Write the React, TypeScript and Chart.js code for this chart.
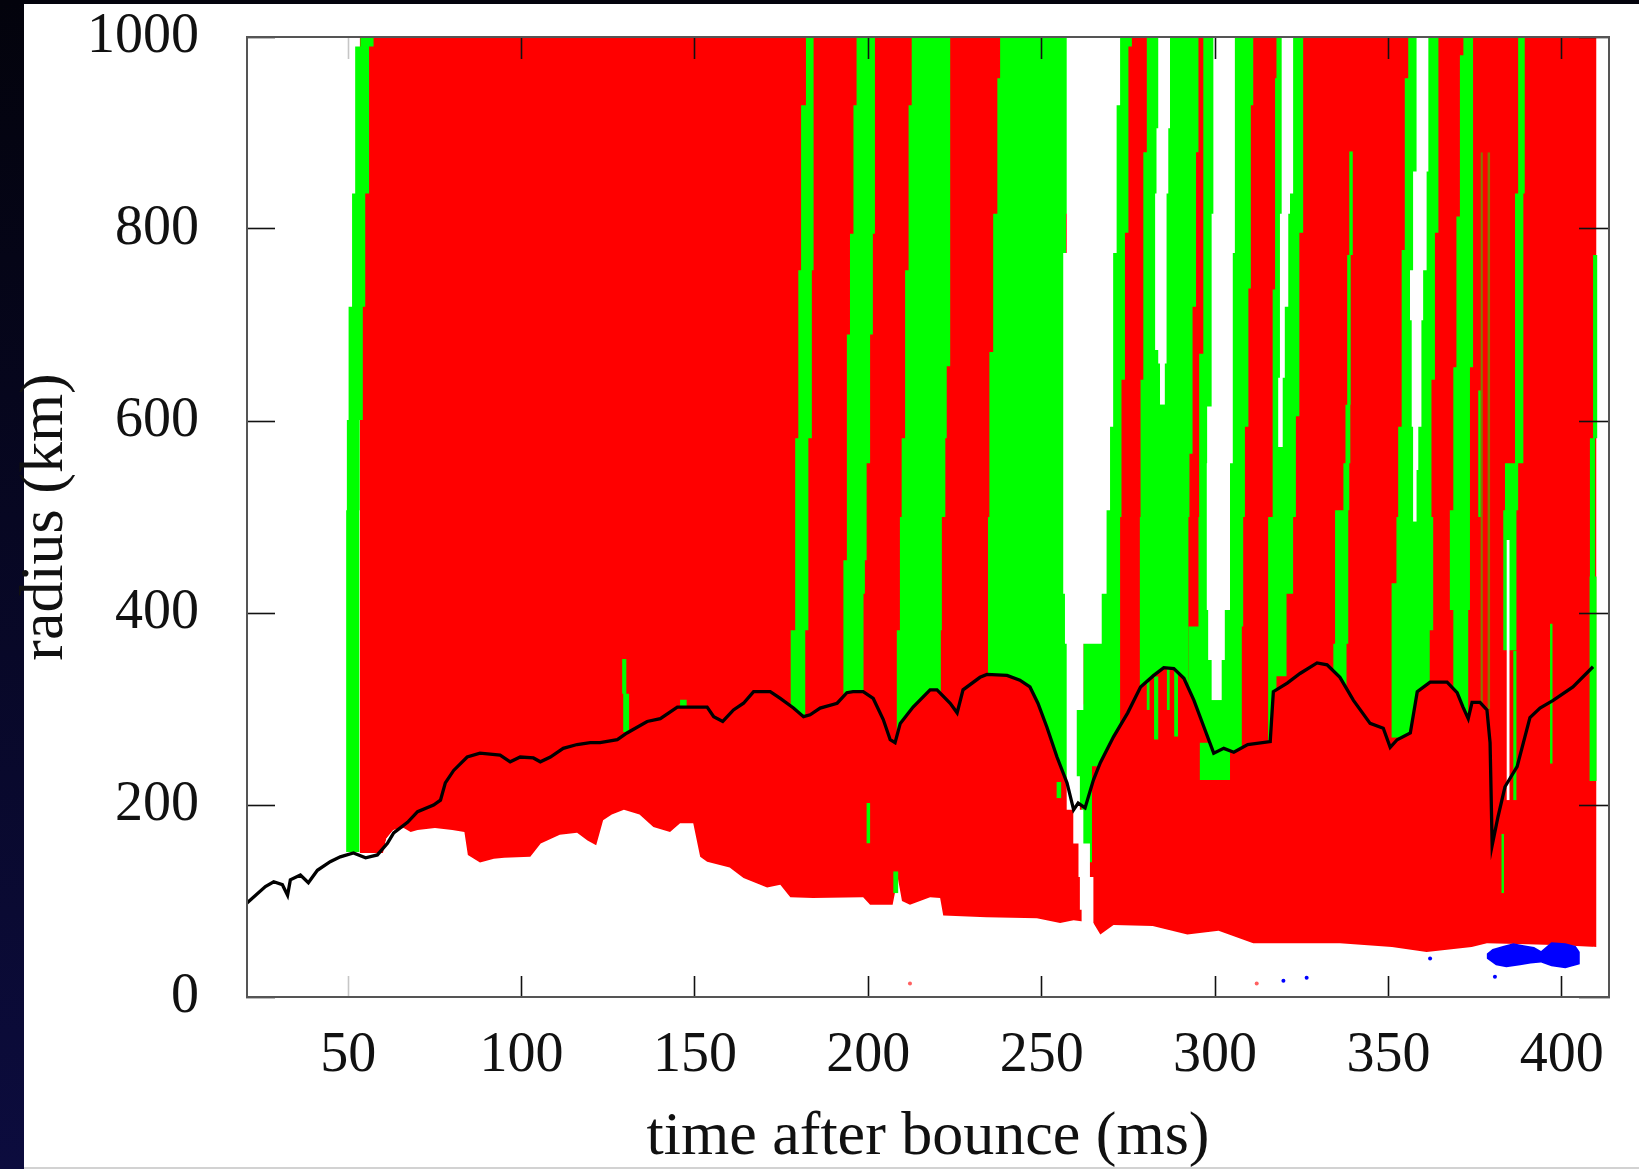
import React, { useEffect, useRef } from 'react';
import { Chart, registerables } from 'chart.js';

Chart.register(...registerables);

const SERIF = "'Liberation Serif', 'Times New Roman', serif";
const RED = '#ff0000';
const GREEN = '#00ff00';
const WHITE = '#ffffff';
const BLUE = '#0000ff';
const OLIVE = '#857a00';

const X_MIN = 20.8;
const X_MAX = 413.6;
const xTicks = [50, 100, 150, 200, 250, 300, 350, 400];
const yTicks = [0, 200, 400, 600, 800, 1000];

// shock radius [time ms, radius km]
const shockRadius = [
  [20.8, 98], [26.1, 115], [28.5, 120], [31, 117], [32.5, 106], [33.3, 122], [36.2, 127], [38.5, 119],
  [41.1, 132], [44.8, 141], [47.7, 146], [51.5, 150], [55, 145], [58.4, 148], [61.3, 160], [63.1, 171],
  [67.1, 182], [70, 193], [74.6, 200], [76.6, 205], [78, 223], [80.4, 236], [84.3, 250], [88, 254],
  [93.8, 252], [96.7, 245], [99.6, 250], [103.4, 249], [105.4, 245], [108.3, 250], [112, 259], [116, 263],
  [119.8, 265], [122.6, 265], [127.6, 268], [130.4, 275], [136.2, 287], [140, 290], [144.9, 302], [153.5, 302],
  [155.4, 292], [158, 287], [161.1, 299], [164, 306], [166.9, 318], [171.7, 318], [174.6, 311], [178.4, 301],
  [181.3, 292], [183.2, 294], [186.1, 301], [191, 306], [193.8, 317], [195.6, 318], [198.5, 318], [201.4, 311],
  [204.3, 289], [206.3, 268], [207.7, 265], [209.2, 285], [212.9, 302], [217.8, 320], [219.8, 320], [223.6, 306],
  [225.6, 296], [227.3, 320], [232.2, 333], [234.2, 336], [240, 335], [243.7, 330], [246.6, 323], [248.9, 306],
  [251.5, 281], [254.4, 250], [257.3, 223], [259.2, 195], [260.5, 202], [262.5, 197], [264.9, 226], [266.9, 244],
  [270.7, 271], [274.8, 296], [278.5, 323], [282.3, 335], [285.2, 343], [288.1, 342], [291, 332], [293.9, 309],
  [296.8, 281], [299.6, 254], [302.5, 259], [305.4, 255], [309.4, 263], [315.9, 266], [316.8, 318], [320.8, 327],
  [324.5, 337], [329.4, 348], [332.3, 346], [336, 333], [339.9, 309], [344.7, 285], [348.5, 280], [350.5, 260],
  [352.5, 268], [356.3, 275], [358.3, 318], [362, 328], [366.9, 328], [369.8, 317], [371.5, 302], [373, 290],
  [374.1, 307], [376.4, 307], [378.4, 299], [379.3, 265], [379.9, 158], [381.6, 188], [383.6, 219], [387.1, 240],
  [390.8, 291], [393.7, 301], [397.5, 309], [403.2, 323], [409, 344],
];

// lower edge of the coloured region [time ms, radius km]
const innerEdge = [
  [53.3, 150], [60, 150], [61, 165], [63, 174], [66, 176], [68, 172], [70, 174], [75, 176], [80, 174],
  [83.5, 172], [84.5, 148], [88, 140], [92, 144], [95, 145], [102.5, 146], [105.5, 160], [111, 169], [116, 171],
  [119, 163], [121.5, 158], [123.5, 184], [126, 190], [129.5, 195], [134, 190], [138, 177], [142.8, 172],
  [145.7, 181], [149.5, 181], [151.5, 146], [153.5, 141], [160, 135], [164, 124], [170.8, 114], [174.6, 117],
  [177.5, 104], [184, 103], [198.5, 104], [200.5, 96], [207, 96], [208.5, 124], [209.7, 100], [212, 96],
  [217.8, 104], [220.7, 103], [221.6, 85], [234, 83], [248.6, 82], [255.3, 77], [259.2, 80], [263, 78],
  [264.9, 77], [266.9, 65], [270.7, 75], [282, 74], [292, 65], [301, 69], [311, 56], [322, 56], [336, 56],
  [351, 52], [361, 47], [374, 52], [378.4, 56], [390, 55], [400, 54], [410, 52],
];

// vertical strips: [radius km (from), left edge ms, right edge ms]
const green50 = [[151, 49.4, 53.2], [507, 49.6, 53.3], [601, 50.1, 54.2], [719, 51.1, 54.9], [837, 52.0, 56.0], [990, 53.5, 57.3], [1000, 53.5, 57.3]];
const greenA = [[285, 177.6, 181.8], [382, 178.9, 182.7], [582, 179.8, 183.7], [757, 180.6, 184.2], [929, 182.0, 184.2], [1000, 182.0, 184.2]];
const greenB = [[300, 192.8, 198.6], [420, 192.8, 199.0], [455, 193.8, 199.5], [556, 193.8, 200.5], [690, 194.7, 201.3], [795, 195.7, 201.9], [929, 196.6, 201.9], [1000, 196.6, 201.9]];
const greenC = [[255, 208.2, 220.9], [382, 209.1, 221.2], [500, 209.6, 222.2], [582, 210.6, 222.6], [657, 210.6, 223.6], [757, 211.6, 223.6], [929, 212.5, 223.6], [1000, 212.5, 223.6]];
const greenD = [[200, 234.5, 264.5], [305, 234.5, 258.0], [500, 234.9, 257.0], [672, 236.0, 257.0], [816, 237.2, 257.5], [957, 238.0, 257.5], [1000, 238.0, 257.5]];
const greenE = [[240, 262.0, 272.6], [500, 262.0, 273.0], [643, 262.0, 274.0], [796, 262.0, 275.0], [990, 262.0, 276.0], [1000, 262.0, 276.0]];
const greenFG = [[300, 278.3, 292.3], [500, 278.5, 292.6], [566, 278.5, 293.5], [643, 279.3, 293.5], [719, 279.3, 294.5], [880, 280.3, 295.2], [1000, 280.3, 295.2]];
const greenHI = [[226, 292.3, 307.7], [386, 295.2, 308.1], [500, 295.4, 308.6], [594, 295.4, 309.6], [670, 296.6, 309.6], [738, 296.6, 310.3], [929, 296.6, 311.0], [1000, 296.6, 311.0]];
const greenJ = [[260, 315.3, 317.7], [334, 315.3, 320.6], [420, 315.3, 322.5], [500, 316.6, 323.3], [605, 316.6, 324.3], [737, 317.3, 324.3], [796, 317.3, 325.4], [957, 317.7, 325.4], [1000, 317.7, 325.4]];
const greenK = [[282, 334.1, 337.9], [368, 334.6, 338.4], [507, 337.0, 338.7], [556, 337.6, 339.0], [617, 338.1, 339.1], [773, 338.7, 339.7], [881, 338.7, 339.7]];
const greenL = [[270, 350.9, 361.9], [382, 350.9, 362.9], [431, 352.3, 362.9], [500, 352.8, 362.4], [594, 353.8, 362.4], [643, 353.8, 363.4], [778, 354.7, 363.4], [796, 354.7, 364.4], [957, 355.7, 364.4], [1000, 355.7, 364.4]];
const greenM = [[295, 368.7, 373.0], [403, 367.7, 373.5], [507, 368.7, 373.5], [656, 369.6, 374.4], [813, 370.6, 374.4], [981, 371.6, 374.4], [1000, 371.6, 374.4]];
const greenN = [[361, 383.1, 386.9], [507, 383.6, 387.4], [556, 386.5, 388.9], [837, 387.4, 389.3], [1000, 387.4, 389.3]];
const greenThin376 = [[500, 375.9, 376.6], [632, 375.9, 376.6]];
const olive377 = [[300, 376.6, 377.2], [880, 376.6, 377.2]];
const olive379 = [[300, 378.6, 379.3], [880, 378.6, 379.3]];

// green patches lying over the post-shock red
const patchV = [[140, 261.5, 264.5], [212, 260.5, 264.5], [280, 260.5, 265.0]];
const patchV2 = [[207, 254.3, 255.6], [224, 254.3, 255.6]];
const patchHI = [[226, 295.6, 304.3], [265, 295.6, 304.3]];
const patch130 = [[276, 129.3, 131.0], [316, 129.0, 130.2], [352, 129.0, 130.2]];
const patch200 = [[160, 199.5, 200.5], [202, 199.5, 200.5]];
const patch208 = [[108, 207.2, 208.6], [131, 207.2, 208.6]];
const patch281 = [[299, 280.3, 281.1], [328, 280.3, 281.1]];
const patch283 = [[268, 282.4, 283.6], [334, 282.4, 283.6]];
const patch286 = [[299, 286.1, 286.9], [343, 286.1, 286.9]];
const patch288 = [[271, 288.2, 289.3], [342, 288.2, 289.3]];
const patch409 = [[225, 408.0, 410.0], [438, 408.1, 409.6], [582, 409.0, 410.2], [773, 409.0, 410.2]];
const patch397 = [[243, 396.6, 397.3], [389, 396.6, 397.3]];
const patch383 = [[108, 382.6, 383.3], [170, 382.6, 383.3]];
const patch386 = [[205, 386.0, 386.9], [361, 386.0, 386.9]];
const patch146 = [[302, 145.7, 147.6], [310, 145.7, 147.6]];

// white (empty) strips
const whiteV = [[60, 261.5, 264.9], [91, 261.0, 264.9], [125, 260.6, 263.9], [160, 259.1, 262.0], [195, 257.2, 261.0], [230, 257.2, 260.1], [299, 257.2, 262.0], [368, 256.7, 267.3], [420, 256.2, 268.7], [507, 256.2, 269.7], [594, 256.2, 270.6], [775, 257.2, 271.6], [929, 257.2, 272.6], [1000, 257.2, 272.6]];
const white285 = [[617, 284.1, 285.5], [660, 283.6, 286.0], [674, 282.7, 286.0], [837, 283.1, 286.5], [905, 283.6, 287.0], [1000, 283.6, 287.0]];
const white302 = [[309, 299.0, 301.9], [351, 298.0, 302.8], [403, 297.6, 304.3], [556, 297.7, 305.1], [615, 299.0, 305.1], [775, 299.0, 305.7], [816, 299.5, 305.7], [1000, 299.5, 305.7]];
const white320 = [[573, 318.2, 319.5], [645, 318.7, 320.1], [719, 318.7, 321.1], [816, 319.2, 321.6], [837, 319.2, 322.5], [1000, 319.2, 322.5]];
const white359 = [[495, 357.1, 358.1], [549, 357.1, 358.6], [594, 356.7, 359.5], [705, 356.2, 360.0], [757, 357.1, 361.0], [860, 358.1, 361.5], [1000, 358.1, 361.5]];
const white384 = [[205, 384.1, 384.9], [476, 384.1, 384.9]];

// blue blob near the bottom [ms, km]
const blueTop = [[378.3, 45], [380, 50], [383, 53], [386, 56], [389, 54], [392, 52], [394, 48], [397, 57], [401, 56], [404, 53], [405.2, 47]];
const blueBottom = [[378.3, 40], [381, 33], [384, 31], [388, 33], [391, 35], [394, 36], [397, 32], [401, 30], [405.2, 34]];
const blueDots = [[319.7, 17], [326.4, 20], [362.0, 40], [380.7, 21]];
const redDots = [[212.0, 14], [312.0, 14]];

const xy = (rows: number[][]) => rows.map(([x, y]) => ({ x, y }));

const areaLine = (rows: number[][], color: string, fill: any, order: number) => ({
  data: xy(rows),
  fill,
  backgroundColor: color,
  borderWidth: 0,
  pointRadius: 0,
  order,
});

const stripSets = (rows: number[][], color: string, order: number) => {
  const base = { indexAxis: 'y', stepped: 'after', borderWidth: 0, pointRadius: 0, order };
  return [
    { ...base, data: rows.map((r) => ({ x: r[1], y: r[0] })), fill: '+1', backgroundColor: color },
    { ...base, data: rows.map((r) => ({ x: r[2], y: r[0] })), fill: false, backgroundColor: color },
  ];
};

const fitTo = (w: number | null, h: number | null) => (s: any) => {
  if (w !== null) s.width = w;
  if (h !== null) s.height = h;
  s.paddingLeft = 0;
  s.paddingRight = 0;
  s.paddingTop = 0;
  s.paddingBottom = 0;
};

const xTickColor = (ctx: any) => (ctx.tick && ctx.tick.value === 50 ? '#c6c6c6' : '#111');

export default function App() {
  const ref = useRef<HTMLCanvasElement>(null);

  useEffect(() => {
    const canvas = ref.current;
    if (!canvas) return;

    const ds: any[] = [];
    ds.push(areaLine(innerEdge, RED, 'end', 8));
    [green50, greenA, greenB, greenC, greenD, greenE, greenFG, greenHI, greenJ, greenK, greenL, greenM, greenN, greenThin376]
      .forEach((s) => ds.push(...stripSets(s, GREEN, 7)));
    [olive377, olive379].forEach((s) => ds.push(...stripSets(s, OLIVE, 7)));
    ds.push(areaLine(shockRadius.filter((p) => p[0] >= 54), RED, 'start', 6));
    ds.push(areaLine(innerEdge, WHITE, 'start', 5));
    [patchV, patchV2, patchHI, patch130, patch200, patch208, patch281, patch283, patch286, patch288, patch409, patch397, patch383, patch386, patch146]
      .forEach((s) => ds.push(...stripSets(s, GREEN, 4)));
    [whiteV, white285, white302, white320, white359, white384].forEach((s) => ds.push(...stripSets(s, WHITE, 3)));
    ds.push(areaLine(blueTop, BLUE, '+1', 2));
    ds.push(areaLine(blueBottom, BLUE, false, 2));
    ds.push({ data: xy(blueDots), showLine: false, pointRadius: 2, pointBackgroundColor: BLUE, pointBorderWidth: 0, order: 1 });
    ds.push({ data: xy(redDots), showLine: false, pointRadius: 2, pointBackgroundColor: '#ff6060', pointBorderWidth: 0, order: 1 });
    ds.push({ data: xy(shockRadius), borderColor: '#000', borderWidth: 3.3, pointRadius: 0, fill: false, order: 0 });

    const border = { display: true, color: '#555', width: 2, z: 2 };

    const chart = new Chart(canvas, {
      type: 'line',
      data: { datasets: ds },
      options: {
        animation: false,
        responsive: false,
        devicePixelRatio: 1,
        events: [],
        layout: { padding: { left: 0, top: 37, right: 30, bottom: 0 } },
        plugins: { legend: { display: false }, tooltip: { enabled: false } },
        elements: { point: { radius: 0 }, line: { tension: 0 } },
        scales: {
          x: {
            type: 'linear', position: 'bottom', min: X_MIN, max: X_MAX,
            afterBuildTicks: (s: any) => { s.ticks = xTicks.map((value) => ({ value })); },
            afterFit: fitTo(null, 172),
            ticks: { autoSkip: false, maxRotation: 0, padding: 47, color: '#111', font: { family: SERIF, size: 56 }, callback: (v: any) => String(v) },
            grid: { drawOnChartArea: false, drawTicks: true, tickLength: -21, tickWidth: 1.6, tickColor: xTickColor, z: 1 },
            border,
            title: { display: true, text: 'time after bounce (ms)', color: '#111', font: { family: SERIF, size: 62 }, padding: { top: 0, bottom: -6 } },
          },
          y: {
            type: 'linear', position: 'left', min: 0, max: 1000,
            afterBuildTicks: (s: any) => { s.ticks = yTicks.map((value) => ({ value })); },
            afterFit: fitTo(247, null),
            ticks: { autoSkip: false, padding: 76, color: '#111', font: { family: SERIF, size: 56 }, callback: (v: any) => String(v) },
            grid: { drawOnChartArea: false, drawTicks: true, tickLength: -28, tickWidth: 1.6, tickColor: '#111', z: 1 },
            border,
            title: { display: true, text: 'radius (km)', color: '#111', font: { family: SERIF, size: 62 }, padding: { top: 9, bottom: 0 } },
          },
          x2: {
            type: 'linear', position: 'top', min: X_MIN, max: X_MAX,
            afterBuildTicks: (s: any) => { s.ticks = xTicks.map((value) => ({ value })); },
            afterFit: fitTo(null, 0),
            ticks: { display: false },
            grid: { drawOnChartArea: false, drawTicks: true, tickLength: -22, tickWidth: 1.6, tickColor: xTickColor, z: 1 },
            border,
          },
          y2: {
            type: 'linear', position: 'right', min: 0, max: 1000,
            afterBuildTicks: (s: any) => { s.ticks = yTicks.map((value) => ({ value })); },
            afterFit: fitTo(0, null),
            ticks: { display: false },
            grid: { drawOnChartArea: false, drawTicks: true, tickLength: -30, tickWidth: 1.6, tickColor: '#111', z: 1 },
            border,
          },
        },
      } as any,
    } as any);

    return () => chart.destroy();
  }, []);

  return (
    <div style={{ position: 'fixed', left: 0, top: 0, width: 1639, height: 1169, overflow: 'hidden', background: 'linear-gradient(180deg, #03030c 0%, #0c0c3e 100%)' }}>
      <div style={{ position: 'absolute', left: 24, top: 4, right: 0, bottom: 0, background: '#ffffff', borderBottom: '2px solid #d2d2d2', boxSizing: 'border-box' }} />
      <canvas ref={ref} width={1639} height={1169} style={{ position: 'absolute', left: 0, top: 0, width: 1639, height: 1169, display: 'block' }} />
    </div>
  );
}
